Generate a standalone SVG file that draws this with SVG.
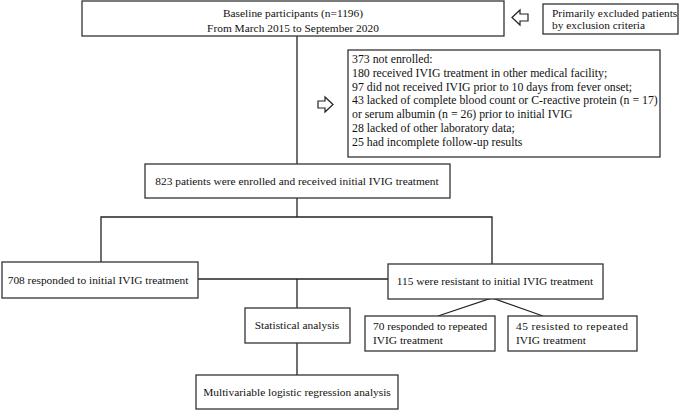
<svg xmlns="http://www.w3.org/2000/svg" width="685" height="411" viewBox="0 0 685 411">
<style>
.box{fill:#fff;stroke:#333;stroke-width:1.3}
.ln{fill:none;stroke:#222;stroke-width:1.3}
.arr{fill:#fff;stroke:#222;stroke-width:1.2}
text{font-family:"Liberation Serif","Times New Roman",serif;font-size:11.4px;fill:#111}
.big{font-size:11.8px}
.c{text-anchor:middle}
</style>
<rect width="685" height="411" fill="#fff"/>
<g id="connectors">
<line class="ln" x1="297" y1="36" x2="297" y2="165"/>
<line class="ln" x1="297" y1="198" x2="297" y2="217"/>
<polyline class="ln" points="101,263 101,217 492,217 492,264"/>
<line class="ln" x1="198" y1="279" x2="388" y2="279"/>
<line class="ln" x1="297" y1="279" x2="297" y2="308"/>
<line class="ln" x1="297" y1="343" x2="297" y2="375"/>
<polyline class="ln" points="438,316 492,298 543,316"/>
<path class="arr" d="M512,17.5 L520,10 L520,14 L528,14 L528,21 L520,21 L520,25 Z"/>
<path class="arr" d="M333,104.5 L325,97 L325,101 L318,101 L318,108 L325,108 L325,112 Z"/>
</g>
<g id="baseline">
<rect class="box" x="82" y="1" width="422" height="35"/>
<text class="c" x="293" y="17">Baseline participants (n=1196)</text>
<text class="c" x="293" y="32">From March 2015 to September 2020</text>
</g>
<g id="primary-excluded">
<rect class="box" x="543" y="4" width="135" height="30"/>
<text x="552" y="17">Primarily excluded patients</text>
<text x="552" y="29">by exclusion criteria</text>
</g>
<g id="not-enrolled">
<rect class="box" x="348" y="50" width="312" height="107"/>
<text class="big" x="352" y="63">373 not enrolled:</text>
<text class="big" x="352" y="77">180 received IVIG treatment in other medical facility;</text>
<text class="big" x="352" y="91">97 did not received IVIG prior to 10 days from fever onset;</text>
<text class="big" x="352" y="104">43 lacked of complete blood count or C-reactive protein (n = 17)</text>
<text class="big" x="352" y="118">or serum albumin (n = 26) prior to initial IVIG</text>
<text class="big" x="352" y="132">28 lacked of other laboratory data;</text>
<text class="big" x="352" y="146">25 had incomplete follow-up results</text>
</g>
<g id="enrolled">
<rect class="box" x="145" y="164" width="305" height="34"/>
<text class="c" x="297" y="185">823 patients were enrolled and received initial IVIG treatment</text>
</g>
<g id="responded">
<rect class="box" x="2" y="262" width="196" height="36"/>
<text class="c" x="98" y="284">708 responded to initial IVIG treatment</text>
</g>
<g id="resistant">
<rect class="box" x="388" y="264" width="215" height="35"/>
<text class="c" x="495" y="285">115 were resistant to initial IVIG treatment</text>
</g>
<g id="statistical">
<rect class="box" x="245" y="308" width="105" height="35"/>
<text class="c" x="297" y="329">Statistical analysis</text>
</g>
<g id="repeated-responded">
<rect class="box" x="365" y="316" width="130" height="35"/>
<text x="373" y="330">70 responded to repeated</text>
<text x="373" y="344">IVIG treatment</text>
</g>
<g id="repeated-resisted">
<rect class="box" x="508" y="316" width="129" height="35"/>
<text x="516" y="330" textLength="112" lengthAdjust="spacing">45 resisted to repeated</text>
<text x="516" y="344">IVIG treatment</text>
</g>
<g id="multivariable">
<rect class="box" x="196" y="375" width="202" height="34"/>
<text class="c" x="297" y="396">Multivariable logistic regression analysis</text>
</g>
</svg>
